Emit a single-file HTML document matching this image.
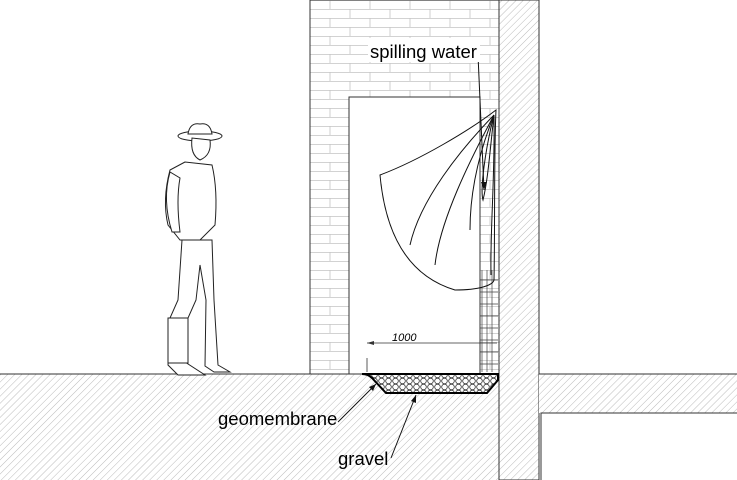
<!DOCTYPE html>
<html><head><style>body{margin:0;background:#fff}svg{display:block}</style></head><body>
<svg width="737" height="480" viewBox="0 0 737 480" xmlns="http://www.w3.org/2000/svg">
<defs>
<pattern id="h" width="5" height="5" patternUnits="userSpaceOnUse" patternTransform="rotate(45)">
<rect width="5" height="5" fill="#fff"/><line x1="0" y1="0" x2="0" y2="5" stroke="#aaa" stroke-width="0.8"/></pattern>
<pattern id="b" x="310" y="0" width="40" height="18" patternUnits="userSpaceOnUse">
<rect width="40" height="18" fill="#fff"/>
<path d="M0 0.5H40M0 9.5H40M20 0V9M0 9V18M40 9V18" stroke="#c4c4c4" stroke-width="0.8" fill="none"/></pattern>
<pattern id="g" width="7" height="6" patternUnits="userSpaceOnUse">
<rect width="7" height="6" fill="#fff"/><circle cx="3.5" cy="3" r="2.8" fill="none" stroke="#333" stroke-width="0.8"/></pattern>
</defs>
<rect x="0" y="374" width="500" height="106" fill="url(#h)"/>
<line x1="0" y1="374" x2="310" y2="374" stroke="#333"/>
<rect x="310" y="0" width="189" height="374" fill="url(#b)" stroke="#333"/>
<rect x="349" y="97" width="131" height="277" fill="#fff" stroke="#333"/>
<path d="M482 270V372M487 270V372M492 270V372M480 280H498M480 292H498M480 304H498M480 316H498M480 328H498M480 340H498M480 352H498M480 364H498" stroke="#444" stroke-width="0.7"/>
<rect x="499" y="0" width="40" height="480" fill="url(#h)" stroke="#333"/>
<rect x="539" y="374" width="198" height="39" fill="url(#h)"/>
<path d="M539 0V374H737M541 480V413H737" fill="none" stroke="#333"/>
<path d="M362 374Q368 374 372 378L386 393H487L498 380V374Z" fill="url(#g)" stroke="#000" stroke-width="2"/>
<path d="M367 358V372M367 343H497" stroke="#333" stroke-width="0.8"/>
<path d="M367 343l7-2v4z" fill="#333"/>
<text x="392" y="341" font-family="Liberation Sans,sans-serif" font-size="11" font-style="italic">1000</text>
<g fill="none" stroke="#111" stroke-width="1">
<path d="M496 110C470 130 420 160 380 175C385 230 405 275 455 290C480 290 493 285 494 280C495 230 494 150 496 110Z"/>
<path d="M494 115C460 150 420 200 410 245"/>
<path d="M494 115C470 160 440 220 435 265"/>
<path d="M494 115C480 150 470 190 470 230"/>
<path d="M494 115C485 150 480 190 483 200C488 180 490 150 494 115Z"/>
<path d="M494 115C495 180 490 230 491 275"/>
<path d="M478 55L484 190"/>
</g>
<path d="M484 190l-3-8h6z" fill="#111"/>
<rect x="368" y="38" width="112" height="24" fill="#fff"/>
<text x="370" y="58" font-family="Liberation Sans,sans-serif" font-size="18.5">spilling water</text>
<text x="218" y="425" font-family="Liberation Sans,sans-serif" font-size="18.5">geomembrane</text>
<path d="M338 422L376 384" stroke="#111" fill="none"/><path d="M376 384l-3 7-4-4z" fill="#111"/>
<text x="338" y="465" font-family="Liberation Sans,sans-serif" font-size="18.5">gravel</text>
<path d="M391 458L416 395" stroke="#111" fill="none"/><path d="M416 395l0 8-5-2z" fill="#111"/>
<g fill="#fff" stroke="#222" stroke-width="1">
<ellipse cx="200" cy="136" rx="22" ry="5"/>
<path d="M188 134Q190 122 200 124Q210 122 212 134Z"/>
<path d="M192 138Q190 155 200 160Q212 155 210 140Z"/>
<path d="M185 162L170 170Q162 200 168 225L180 240L200 240L215 225Q218 190 212 165Z"/>
<path d="M170 172Q162 200 172 232L180 232Q176 200 180 178Z"/>
<path d="M182 240L178 300L170 318L168 365L178 375L205 375L185 362L188 318L196 300L200 265L206 300L205 366L214 372L230 372L218 365L214 300L212 240Z"/>
<rect x="168" y="318" width="20" height="45"/>
</g>
</svg>
</body></html>
